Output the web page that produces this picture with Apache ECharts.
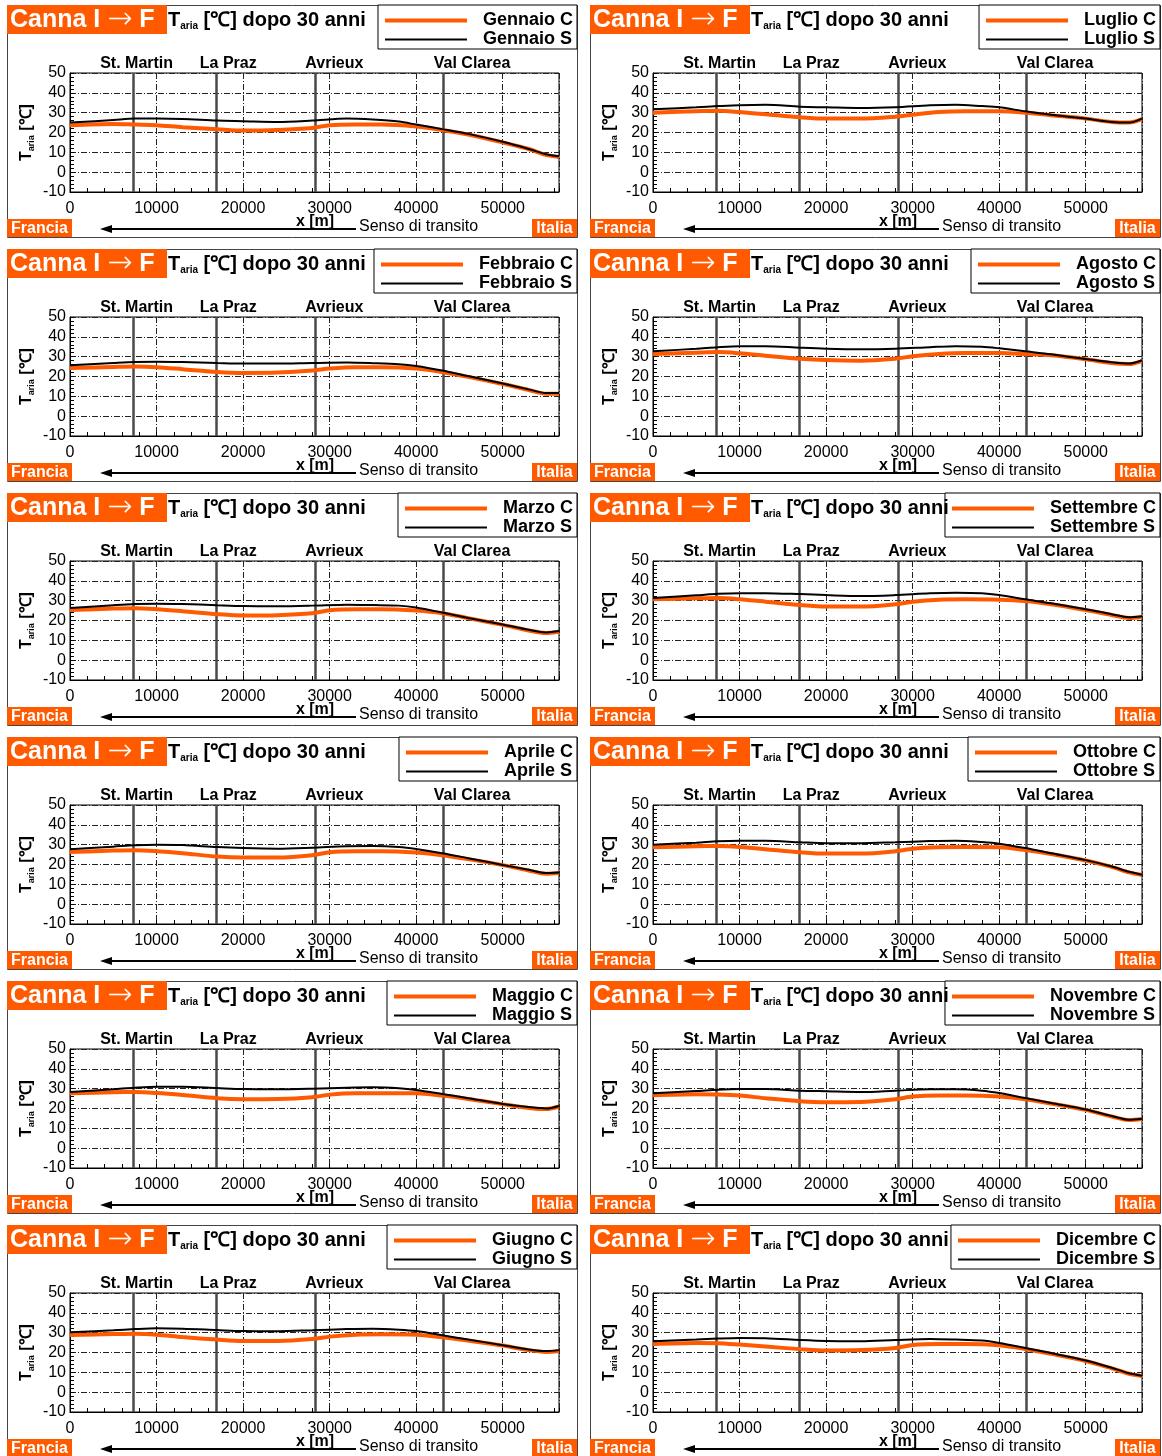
<!DOCTYPE html>
<html><head><meta charset="utf-8">
<script src="https://cdn.jsdelivr.net/npm/echarts@6/dist/echarts.min.js"></script>
<style>html,body{margin:0;padding:0;background:#fff}#c{width:1162px;height:1456px}</style>
</head><body><div id="c"></div>
<script>
// ---------------- DATA ----------------
const months = ['Gennaio','Febbraio','Marzo','Aprile','Maggio','Giugno','Luglio','Agosto','Settembre','Ottobre','Novembre','Dicembre'];
const xS = [0, 5000, 7500, 10000, 13000, 17000, 20000, 24000, 28000, 32000, 35000, 38000, 40000, 43000, 46000, 50000, 53000, 55000, 56500];
const xC = [0, 5000, 7500, 10000, 13000, 17000, 20000, 24000, 28000, 30000, 33000, 36000, 40000, 43000, 46000, 50000, 53000, 55000, 56500];

const gennaioS   = [25.0, 26.3, 27.0, 27.0, 26.8, 26.0, 25.7, 25.3, 26.0, 27.0, 26.5, 25.5, 24.0, 21.7, 19.3, 15.3, 11.7, 9.0, 8.0];
const gennaioC   = [23.7, 24.3, 24.0, 23.7, 22.7, 21.7, 21.0, 21.3, 22.3, 23.7, 24.0, 24.0, 23.0, 21.3, 19.0, 15.0, 11.7, 8.7, 7.7];
const febbraioS  = [25.7, 26.8, 27.3, 27.5, 27.3, 26.8, 26.5, 26.5, 26.8, 27.0, 26.7, 26.2, 25.3, 23.0, 20.2, 16.5, 13.5, 11.7, 11.7];
const febbraioC  = [24.3, 24.8, 25.0, 24.7, 23.7, 22.3, 21.8, 22.0, 23.0, 24.0, 24.7, 24.7, 24.0, 22.3, 19.8, 16.2, 13.2, 11.3, 11.3];
const marzoS     = [26.3, 27.7, 28.3, 28.5, 28.3, 27.7, 27.3, 27.2, 27.5, 28.0, 27.8, 27.5, 26.5, 24.0, 21.3, 18.0, 15.3, 14.0, 14.7];
const marzoC     = [25.3, 26.0, 26.2, 25.7, 24.7, 23.2, 22.5, 22.7, 23.7, 25.2, 25.7, 25.7, 25.0, 23.7, 21.2, 17.8, 15.0, 13.7, 14.3];
const aprileS    = [27.7, 29.0, 29.7, 30.0, 29.8, 28.8, 28.3, 28.0, 28.5, 29.2, 29.3, 28.8, 27.8, 25.7, 23.2, 19.8, 17.3, 15.7, 16.0];
const aprileC    = [26.3, 27.0, 27.2, 26.7, 25.7, 24.0, 23.5, 23.5, 24.7, 26.2, 26.7, 26.7, 26.0, 24.7, 22.7, 19.7, 17.0, 15.3, 15.7];
const maggioS    = [28.3, 29.7, 30.5, 31.0, 31.0, 30.3, 29.8, 29.7, 30.0, 30.5, 30.7, 30.2, 29.3, 27.3, 25.2, 22.3, 20.7, 20.0, 21.3];
const maggioC    = [27.7, 28.2, 28.3, 27.8, 26.8, 25.2, 24.7, 24.8, 25.7, 27.0, 27.7, 27.7, 27.7, 26.5, 24.8, 22.2, 20.3, 19.7, 21.0];
const giugnoS    = [30.2, 31.2, 31.8, 32.2, 32.0, 31.3, 30.8, 30.7, 31.2, 31.8, 32.0, 31.5, 30.8, 28.7, 26.5, 23.7, 21.5, 20.7, 21.2];
const giugnoC    = [28.8, 29.3, 29.5, 29.0, 27.8, 26.5, 25.8, 25.8, 26.8, 28.0, 29.0, 29.2, 29.0, 27.7, 26.0, 23.5, 21.2, 20.3, 20.8];
const luglioS    = [31.7, 32.7, 33.3, 33.8, 34.0, 33.0, 32.7, 32.3, 32.7, 33.7, 34.0, 33.3, 32.7, 30.7, 29.0, 27.0, 25.3, 25.0, 27.0];
const luglioC    = [30.0, 30.7, 31.0, 30.3, 29.2, 27.7, 27.0, 27.0, 28.0, 29.0, 30.3, 30.7, 30.7, 30.0, 28.7, 27.0, 25.3, 25.0, 26.7];
const agostoS    = [32.7, 34.0, 34.8, 35.3, 35.3, 34.5, 34.0, 33.7, 34.0, 34.8, 35.3, 35.0, 34.2, 32.7, 31.2, 28.8, 27.2, 26.5, 28.2];
const agostoC    = [31.3, 32.0, 32.3, 31.7, 30.5, 29.0, 28.3, 28.0, 29.0, 30.2, 31.3, 31.8, 31.8, 31.3, 30.7, 28.7, 26.8, 26.3, 27.8];
const settembreS = [31.3, 32.7, 33.5, 33.8, 33.8, 33.3, 32.8, 32.3, 32.8, 33.7, 34.0, 33.7, 32.8, 30.7, 28.7, 25.7, 23.2, 21.7, 22.2];
const settembreC = [30.7, 31.2, 31.3, 30.7, 29.5, 27.8, 27.0, 27.0, 28.2, 29.5, 30.5, 30.7, 30.5, 29.8, 28.2, 25.3, 22.8, 21.3, 21.8];
const ottobreS   = [30.0, 31.0, 31.7, 32.0, 32.0, 31.2, 30.7, 30.7, 31.2, 31.8, 32.0, 31.3, 30.5, 28.3, 25.7, 22.2, 19.0, 16.3, 14.8];
const ottobreC   = [28.7, 29.2, 29.3, 28.8, 27.7, 26.2, 25.5, 25.5, 26.7, 28.0, 28.7, 28.8, 28.7, 27.3, 25.3, 22.0, 18.8, 16.0, 14.7];
const novembreS  = [27.7, 28.8, 29.5, 29.8, 29.8, 29.0, 28.7, 28.3, 29.0, 29.7, 29.7, 29.0, 27.8, 25.3, 22.8, 19.5, 16.2, 14.3, 14.8];
const novembreC  = [26.7, 27.2, 27.0, 26.5, 25.2, 23.7, 23.2, 23.3, 24.7, 26.0, 26.5, 26.5, 26.0, 24.7, 22.5, 19.3, 16.0, 14.2, 14.7];
const dicembreS  = [25.7, 26.5, 27.0, 27.3, 27.2, 26.3, 25.8, 25.7, 26.3, 26.8, 26.5, 26.0, 24.8, 22.3, 19.7, 16.0, 12.3, 9.5, 8.3];
const dicembreC  = [24.3, 24.8, 24.7, 24.0, 23.0, 21.7, 21.0, 21.2, 22.3, 23.8, 24.3, 24.3, 23.7, 21.8, 19.3, 15.7, 12.0, 9.3, 8.2];

const stationNames = ['St. Martin', 'La Praz', 'Avrieux', 'Val Clarea'];
const stationX = [7350, 16900, 28350, 43100];
const yTicks = [-10, 0, 10, 20, 30, 40, 50];
const xTicks = [0, 10000, 20000, 30000, 40000, 50000];

const seriesS = [gennaioS, febbraioS, marzoS, aprileS, maggioS, giugnoS, luglioS, agostoS, settembreS, ottobreS, novembreS, dicembreS];
const seriesC = [gennaioC, febbraioC, marzoC, aprileC, maggioC, giugnoC, luglioC, agostoC, settembreC, ottobreC, novembreC, dicembreC];

// ---------------- STYLE / LAYOUT ----------------
const ORANGE = '#ff5a00';
const FONT = '"Liberation Sans", Arial, Helvetica, sans-serif';
const labelShift = [3, 12, 19, 29];

const chart = echarts.init(document.getElementById('c'), null, {renderer: 'canvas'});
const grids = [], xAxes = [], yAxes = [], series = [], legends = [], graphics = [];

months.forEach((m, i) => {
  const col = i < 6 ? 0 : 1, row = i % 6;
  const ox = col ? 590 : 7, oy = 5 + 244 * row;
  grids.push({left: ox + 63, top: oy + 68, width: 489, height: 119, show: true,
    borderColor: '#000', borderWidth: 1, backgroundColor: 'transparent', containLabel: false});
  xAxes.push({gridIndex: i, type: 'value', min: 0, max: 56500, interval: 10000,
    axisLine: {show: true, onZero: false, lineStyle: {color: '#000', width: 1}},
    axisTick: {show: true, inside: true, length: 4, lineStyle: {color: '#000'}},
    minorTick: {show: true, splitNumber: 5, length: 4, lineStyle: {color: '#000'}},
    axisLabel: {fontFamily: FONT, fontSize: 16, color: '#000', margin: 9, showMaxLabel: false,
      formatter: v => xTicks.includes(v) ? String(v) : ''},
    splitLine: {show: true, lineStyle: {color: '#222', width: 1, type: [6, 2, 1, 2]}}});
  yAxes.push({gridIndex: i, type: 'value', min: -10, max: 50, interval: 10,
    axisLine: {show: true, onZero: false, lineStyle: {color: '#000', width: 1}},
    axisTick: {show: true, inside: true, length: 4, lineStyle: {color: '#000'}},
    minorTick: {show: true, splitNumber: 5, length: 4, lineStyle: {color: '#000'}},
    axisLabel: {fontFamily: FONT, fontSize: 16, color: '#000', margin: 4,
      formatter: v => yTicks.includes(v) ? String(v) : ''},
    splitLine: {show: true, lineStyle: {color: '#222', width: 1, type: [6, 2, 1, 2]}},
    name: '{a|T}{b|aria}{a| [℃]}', nameLocation: 'middle', nameRotate: 90, nameGap: 34,
    nameTextStyle: {rich: {
      a: {fontFamily: FONT, fontSize: 16, fontWeight: 'bold', color: '#000', lineHeight: 18},
      b: {fontFamily: FONT, fontSize: 9, fontWeight: 'bold', color: '#000', lineHeight: 6, verticalAlign: 'bottom'}}}});

  // station lines
  series.push({type: 'line', xAxisIndex: i, yAxisIndex: i, data: [], z: 1, silent: true,
    markLine: {silent: true, symbol: 'none', animation: false, z: 1,
      lineStyle: {color: '#4a4a4a', width: 2.5, type: 'solid'},
      label: {show: true, position: 'end', distance: 1, fontFamily: FONT, fontSize: 16, fontWeight: 'bold', color: '#000',
        formatter: p => p.name},
      data: stationX.map((x, k) => ({name: stationNames[k], xAxis: x, label: {offset: [labelShift[k], 0]}}))}});

  series.push({name: m + ' C', type: 'line', xAxisIndex: i, yAxisIndex: i, z: 3,
    data: xC.map((x, k) => [x, seriesC[i][k]]), symbol: 'none', smooth: 0.3,
    lineStyle: {color: ORANGE, width: 4}, itemStyle: {color: ORANGE}});
  series.push({name: m + ' S', type: 'line', xAxisIndex: i, yAxisIndex: i, z: 4,
    data: xS.map((x, k) => [x, seriesS[i][k]]), symbol: 'none', smooth: 0.3,
    lineStyle: {color: '#000', width: 2}, itemStyle: {color: '#000'}});

  legends.push({data: [
      {name: m + ' C', lineStyle: {color: ORANGE, width: 4}},
      {name: m + ' S', lineStyle: {color: '#000', width: 2}}],
    orient: 'vertical', right: col ? 2 : 585, top: oy,
    itemWidth: 82, itemHeight: 14, itemGap: 0, padding: [6, 4, 0, 5],
    itemStyle: {opacity: 0, borderWidth: 0},
    borderColor: '#000', borderWidth: 1, backgroundColor: '#fff', selectedMode: false,
    textStyle: {fontFamily: FONT, fontSize: 18, fontWeight: 'bold', color: '#000', padding: [0, 0, 0, 11], lineHeight: 19}});

  // panel decorations
  graphics.push({type: 'rect', z: 0, shape: {x: ox + 0.5, y: oy + 0.5, width: 570, height: 232},
    style: {fill: 'none', stroke: '#444', lineWidth: 1}, silent: true});
  graphics.push({type: 'rect', z: 10, shape: {x: ox, y: oy, width: 160, height: 29}, style: {fill: ORANGE}, silent: true});
  graphics.push({type: 'text', z: 11, x: ox + 3, y: oy + 15, silent: true,
    style: {text: '{a|Canna I }{r|→}{a| F}', verticalAlign: 'middle',
      rich: {a: {font: 'bold 25px ' + FONT, fill: '#fff', lineHeight: 28},
             r: {font: '200 30px "DejaVu Sans", sans-serif', fill: '#fff', lineHeight: 28}}}});
  graphics.push({type: 'text', z: 11, x: ox + 161, y: oy + 4, silent: true,
    style: {text: '{a|T}{b|aria}{a| [℃] dopo 30 anni}', verticalAlign: 'top',
      rich: {a: {font: 'bold 20px ' + FONT, fill: '#000', lineHeight: 22},
             b: {font: 'bold 10px ' + FONT, fill: '#000', lineHeight: 5, verticalAlign: 'bottom'}}}});
  graphics.push({type: 'text', z: 11, x: ox + 308, y: oy + 217, silent: true,
    style: {text: 'x [m]', fill: '#000', font: 'bold 16px ' + FONT, align: 'center', verticalAlign: 'middle'}});
  graphics.push({type: 'rect', z: 10, shape: {x: ox, y: oy + 214, width: 65, height: 18}, style: {fill: ORANGE}, silent: true});
  graphics.push({type: 'text', z: 11, x: ox + 32.5, y: oy + 223.5, silent: true,
    style: {text: 'Francia', fill: '#fff', font: 'bold 16px ' + FONT, align: 'center', verticalAlign: 'middle'}});
  graphics.push({type: 'rect', z: 10, shape: {x: ox + 525, y: oy + 214, width: 45, height: 18}, style: {fill: ORANGE}, silent: true});
  graphics.push({type: 'text', z: 11, x: ox + 547.5, y: oy + 223.5, silent: true,
    style: {text: 'Italia', fill: '#fff', font: 'bold 16px ' + FONT, align: 'center', verticalAlign: 'middle'}});
  graphics.push({type: 'line', z: 11, shape: {x1: ox + 102, y1: oy + 224, x2: ox + 349, y2: oy + 224},
    style: {stroke: '#000', lineWidth: 2}, silent: true});
  graphics.push({type: 'polygon', z: 11, shape: {points: [[ox + 93, oy + 224], [ox + 105, oy + 220], [ox + 105, oy + 228]]},
    style: {fill: '#000'}, silent: true});
  graphics.push({type: 'text', z: 11, x: ox + 352, y: oy + 222, silent: true,
    style: {text: 'Senso di transito', fill: '#000', font: '16px ' + FONT, verticalAlign: 'middle'}});
});

chart.setOption({
  animation: false,
  backgroundColor: '#fff',
  grid: grids, xAxis: xAxes, yAxis: yAxes, series: series, legend: legends,
  graphic: {elements: graphics}
});
</script></body></html>
